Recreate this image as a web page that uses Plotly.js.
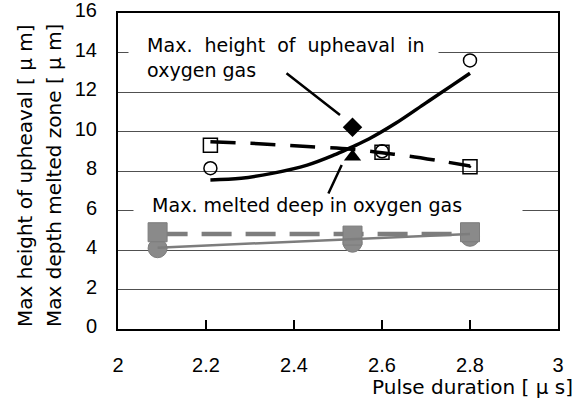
<!DOCTYPE html>
<html><head><meta charset="utf-8">
<script src="https://cdn.plot.ly/plotly-3.0.1.min.js"></script>
<style>html,body{margin:0;padding:0;background:#fff}#chart{width:577px;height:401px}</style>
</head><body><div id="chart"></div>
<script>
// ---- data ----
const xTickVals = [2, 2.2, 2.4, 2.6, 2.8, 3];
const xTickText = ['2', '2.2', '2.4', '2.6', '2.8', '3'];
const yTickVals = [0, 2, 4, 6, 8, 10, 12, 14, 16];

const upheavalX = [2.21, 2.60, 2.80];
const upheavalY = [8.14, 9.00, 13.60];
const upheavalTrendX = [2.21, 2.28, 2.35, 2.43, 2.49, 2.53, 2.57, 2.63, 2.70, 2.76, 2.80];
const upheavalTrendY = [7.55, 7.63, 7.88, 8.30, 8.80, 9.20, 9.62, 10.40, 11.45, 12.35, 12.95];

const meltedX = [2.21, 2.60, 2.80];
const meltedY = [9.30, 8.95, 8.22];
const meltedSymbols = ['square-open', 'square-open', 'square-open-dot'];
const meltedTrendX = [2.21, 2.32, 2.42, 2.53, 2.60, 2.66, 2.74, 2.80];
const meltedTrendY = [9.48, 9.38, 9.25, 9.10, 8.92, 8.76, 8.48, 8.25];

const oxyHeightX = [2.533];
const oxyHeightY = [10.21];
const oxyMeltX = [2.533];
const oxyMeltY = [8.72];

const grayX = [2.09, 2.533, 2.80];
const grayCircleY = [4.09, 4.37, 4.67];
const graySquareY = [4.90, 4.73, 4.90];
const grayCircleTrendX = [2.09, 2.80];
const grayCircleTrendY = [4.12, 4.81];
const graySquareTrendX = [2.09, 2.80];
const graySquareTrendY = [4.81, 4.81];

const labelHeight = 'Max.\u00a0 height\u00a0 of\u00a0 upheaval\u00a0 in';
const labelHeight2 = 'oxygen gas';
const labelMelt = 'Max. melted deep in oxygen gas';
const yTitle1 = 'Max height of upheaval [ \u03bc m]';
const yTitle2 = 'Max depth melted zone [ \u03bc m]';
const xTitle = 'Pulse duration [\u00a0\u03bc\u00a0s]';

// ---- chart ----
const GRAY = '#8a8a8a';
const GRAYLINE = '#7d7d7d';
const traces = [
  {x: graySquareTrendX, y: graySquareTrendY, mode: 'lines',
   line: {color: GRAYLINE, width: 4.5, dash: '30px,14px'}, hoverinfo: 'skip'},
  {x: grayX, y: grayCircleY, mode: 'markers',
   marker: {symbol: 'circle', size: 19, color: GRAY, line: {color: GRAYLINE, width: 1}}},
  {x: grayX, y: graySquareY, mode: 'markers',
   marker: {symbol: 'square', size: 19, color: GRAY, line: {color: GRAYLINE, width: 1}}},
  {x: grayCircleTrendX, y: grayCircleTrendY, mode: 'lines',
   line: {color: GRAYLINE, width: 2.5}, hoverinfo: 'skip'},
  {x: meltedTrendX, y: meltedTrendY, mode: 'lines',
   line: {color: '#000', width: 3.5, dash: '25px,15px', shape: 'spline'}, hoverinfo: 'skip'},
  {x: upheavalTrendX, y: upheavalTrendY, mode: 'lines',
   line: {color: '#000', width: 3.5, shape: 'spline'}, hoverinfo: 'skip'},
  {x: meltedX, y: meltedY, mode: 'markers',
   marker: {symbol: meltedSymbols, size: 14, color: '#000', line: {color: '#000', width: 1.5}}},
  {x: upheavalX, y: upheavalY, mode: 'markers',
   marker: {symbol: 'circle-open', size: 13, color: '#000', line: {color: '#000', width: 1.5}}},
  {x: oxyHeightX, y: oxyHeightY, mode: 'markers',
   marker: {symbol: 'diamond', size: 15, color: '#000'}},
  {x: oxyMeltX, y: oxyMeltY, mode: 'markers',
   marker: {symbol: 'triangle-up', size: 15, color: '#000'}}
];

const W = 577, H = 401;
const L = 118, R = 19, T = 13, B = 72;
const pw = W - L - R, ph = H - T - B;
const px = v => (v - L) / pw;          // pixel -> paper x
const py = v => (H - B - v) / ph;      // pixel -> paper y

const textFont = {family: 'DejaVu Sans, Noto Sans CJK JP, sans-serif', size: 19, color: '#000'};
const titleFont = {family: 'DejaVu Sans, Noto Sans CJK JP, sans-serif', size: 20, color: '#000'};
const tickFont = {family: 'Liberation Sans, Arial, sans-serif', size: 20, color: '#000'};
const nb = '\u00a0\u00a0\u00a0';

const layout = {
  width: W, height: H,
  margin: {l: L, r: R, t: T, b: B, pad: 0},
  paper_bgcolor: '#fff', plot_bgcolor: '#fff',
  showlegend: false,
  font: {family: 'Liberation Sans, Arial, sans-serif', size: 19, color: '#000'},
  xaxis: {
    range: [2, 3], tickvals: xTickVals, ticktext: xTickText,
    ticks: 'inside', ticklen: 9, tickwidth: 1.5, tickcolor: '#000',
    showgrid: false, zeroline: false,
    showline: true, linecolor: '#000', linewidth: 2, mirror: true,
    ticklabelstandoff: 17, ticklabeloverflow: 'allow',
    tickfont: tickFont
  },
  yaxis: {
    range: [0, 16], tickvals: yTickVals,
    ticks: '', showgrid: true, gridcolor: '#505050', gridwidth: 1,
    zeroline: false,
    showline: true, linecolor: '#000', linewidth: 2, mirror: true,
    ticklabelstandoff: 15, ticklabelshift: -3, ticklabeloverflow: 'allow',
    tickfont: tickFont
  },
  annotations: [
    {xref: 'paper', yref: 'paper', x: px(128), y: py(58), xanchor: 'left', yanchor: 'middle',
     text: nb + labelHeight + '<br>' + nb + labelHeight2, align: 'left', width: 309,
     showarrow: false, bgcolor: '#fff', borderpad: 0, font: textFont},
    {xref: 'paper', yref: 'paper', x: px(133), y: py(205), xanchor: 'left', yanchor: 'middle',
     text: nb + labelMelt, align: 'left', width: 388,
     showarrow: false, bgcolor: '#fff', borderpad: 0, font: textFont},
    {xref: 'x', yref: 'y', x: 2 + (340 - L) / pw, y: 16 * (H - B - 115) / ph, text: '',
     showarrow: true, arrowhead: 0, arrowwidth: 2.5, arrowcolor: '#000', standoff: 0,
     ax: -55, ay: -43},
    {xref: 'x', yref: 'y', x: 2 + (341.7 - L) / pw, y: 16 * (H - B - 165) / ph, text: '',
     showarrow: true, arrowhead: 0, arrowwidth: 2.5, arrowcolor: '#000', standoff: 0,
     ax: -14, ay: 30},
    {xref: 'paper', yref: 'paper', x: px(25), y: py(176), textangle: -90,
     xanchor: 'center', yanchor: 'middle', text: yTitle1, showarrow: false, font: titleFont},
    {xref: 'paper', yref: 'paper', x: px(54), y: py(176), textangle: -90,
     xanchor: 'center', yanchor: 'middle', text: yTitle2, showarrow: false, font: titleFont},
    {xref: 'paper', yref: 'paper', x: px(575), y: py(387), xanchor: 'right', yanchor: 'middle',
     text: xTitle, showarrow: false, font: titleFont}
  ]
};

Plotly.newPlot('chart', traces, layout, {displayModeBar: false, staticPlot: true});
</script>
</body></html>
